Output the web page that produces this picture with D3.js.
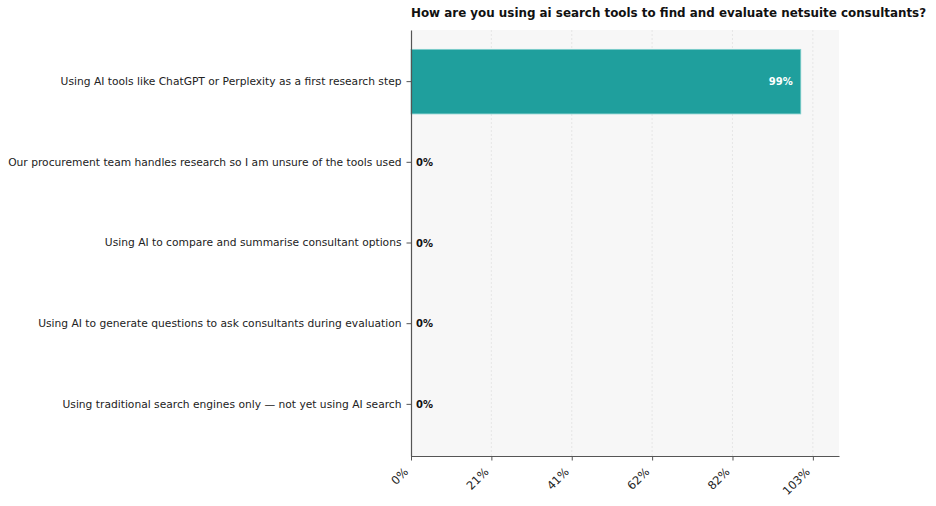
<!DOCTYPE html>
<html>
<head>
<meta charset="utf-8">
<script src="https://cdn.jsdelivr.net/npm/d3@7"></script>
<style>
  body { margin: 0; background: #fff; }
  svg { display: block; font-family: "DejaVu Sans", sans-serif; }
</style>
</head>
<body>
<svg width="936" height="506"></svg>
<script>
// The data:
const title = 'How are you using ai search tools to find and evaluate netsuite consultants?'
const categories = [
  'Using AI tools like ChatGPT or Perplexity as a first research step',
  'Our procurement team handles research so I am unsure of the tools used',
  'Using AI to compare and summarise consultant options',
  'Using AI to generate questions to ask consultants during evaluation',
  'Using traditional search engines only \u2014 not yet using AI search',
]
const values = [99.9, 0, 0, 0, 0]
const tickValues = [0, 20.6, 41.2, 61.8, 82.4, 103]
const xMax = 109.7

const font = '"DejaVu Sans", sans-serif'
const svg = d3.select('svg')
const plotLeft = 411, plotRight = 839, plotTop = 30, plotBottom = 456

// Scales
const xScale = d3.scaleLinear().domain([0, xMax]).range([plotLeft, plotRight])
const yScale = d3.scaleBand().domain(categories).range([plotTop, plotBottom])
  .paddingInner(0.2).paddingOuter(0.24)

// Plot background
svg.append('rect')
  .attr('x', plotLeft).attr('y', plotTop)
  .attr('width', plotRight - plotLeft).attr('height', plotBottom - plotTop)
  .attr('fill', '#f7f7f7')

// Grid lines
svg.append('g').selectAll('line')
  .data(tickValues.slice(1))
  .enter().append('line')
  .attr('x1', (d) => xScale(d)).attr('x2', (d) => xScale(d))
  .attr('y1', plotTop).attr('y2', plotBottom)
  .attr('stroke', '#e2e2e2').attr('stroke-width', 0.8)
  .attr('stroke-dasharray', '2,2')

// Bars
svg.append('g').selectAll('rect')
  .data(values)
  .enter().append('rect')
  .attr('x', xScale(0))
  .attr('y', (d, i) => yScale(categories[i]))
  .attr('width', (d) => xScale(d) - xScale(0))
  .attr('height', yScale.bandwidth())
  .attr('fill', '#1f9f9d')
  .attr('stroke', '#7fcfcc').attr('stroke-width', 0.8)

// Value labels
svg.append('g').selectAll('text')
  .data(values)
  .enter().append('text')
  .attr('x', (d) => d > 10 ? xScale(d) - 8 : xScale(d) + 5)
  .attr('y', (d, i) => yScale(categories[i]) + yScale.bandwidth() / 2)
  .attr('dy', '0.35em')
  .attr('text-anchor', (d) => d > 10 ? 'end' : 'start')
  .attr('fill', (d) => d > 10 ? '#fff' : '#111')
  .attr('font-weight', 'bold')
  .attr('font-size', 10)
  .text((d) => Math.floor(d) + '%')

// x axis
const xAxis = d3.axisBottom(xScale).tickValues(tickValues)
  .tickFormat((d) => Math.round(d) + '%').tickSize(4.5).tickSizeOuter(0)
const xg = svg.append('g').attr('transform', `translate(0,${plotBottom})`).call(xAxis)
  .attr('font-family', font)
xg.select('.domain').attr('stroke', '#555').attr('stroke-width', 1.2)
xg.selectAll('.tick line').attr('stroke', '#555')
xg.selectAll('.tick text')
  .attr('font-size', 11.5).attr('fill', '#222')
  .attr('text-anchor', 'end')
  .attr('y', 0).attr('dy', 0)
  .attr('transform', 'translate(-2.5,16.5) rotate(-45)')

// y axis
const yAxis = d3.axisLeft(yScale).tickSize(4.5).tickSizeOuter(0).tickPadding(5)
const yg = svg.append('g').attr('transform', `translate(${plotLeft},0)`).call(yAxis)
  .attr('font-family', font)
yg.select('.domain').attr('stroke', '#555').attr('stroke-width', 1.2)
yg.selectAll('.tick line').attr('stroke', '#555')
yg.selectAll('.tick text').attr('font-size', 10.7).attr('fill', '#222')

// Title
svg.append('text')
  .attr('x', plotLeft).attr('y', 17)
  .attr('font-size', 11.9).attr('font-weight', 'bold').attr('fill', '#111')
  .text(title)
</script>
</body>
</html>
